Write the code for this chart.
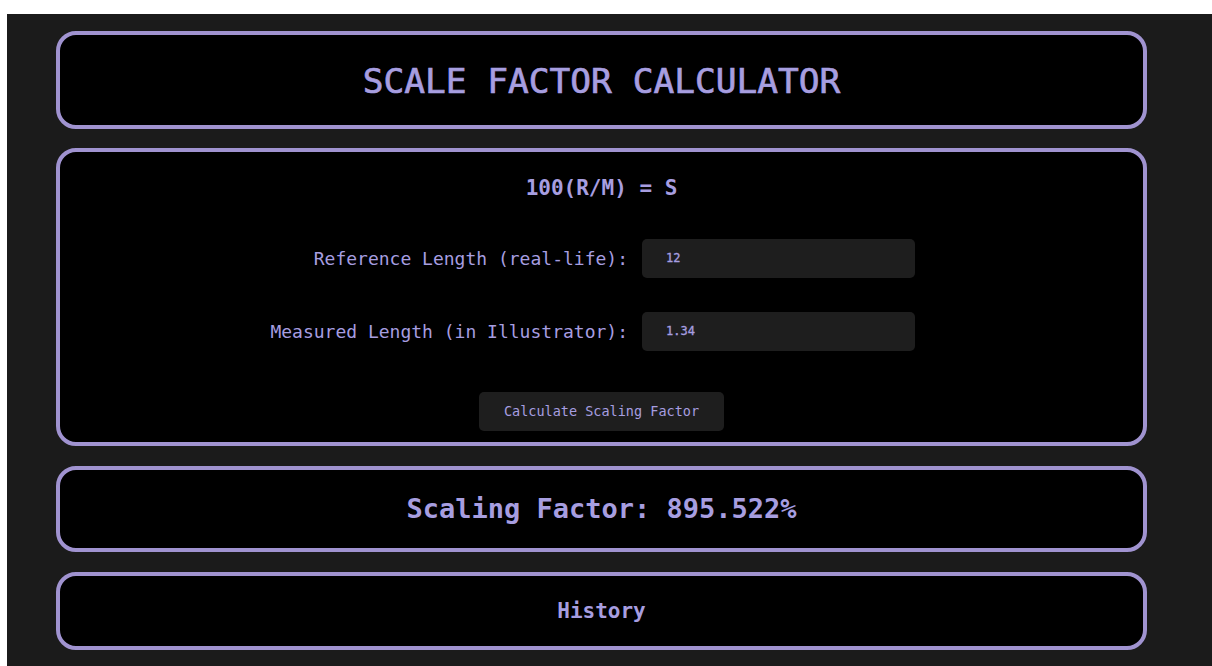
<!DOCTYPE html>
<html>
<head>
<meta charset="utf-8">
<script src="https://cdn.jsdelivr.net/npm/chart.js@4"></script>
<style>
  html, body { margin: 0; padding: 0; background: #fff; width: 1212px; height: 666px; overflow: hidden; }
  body { font-family: "DejaVu Sans Mono", monospace; color: #a79ee0; }
  #page { position: absolute; left: 7px; top: 14px; right: 0; bottom: 0; background: #1b1b1b; }
  .box { position: absolute; left: 49px; width: 1091px; box-sizing: border-box;
         border: 4px solid #a093d0; border-radius: 20px; background: #000; }
  .center { position: absolute; left: 0; right: 0; text-align: center; }
  .lbl { position: absolute; right: 515px; font-size: 18px; white-space: nowrap; line-height: 39px; }
  .inp { position: absolute; left: 582px; width: 273px; height: 39px; background: #1e1e1e; border-radius: 5px;
         font-size: 12px; line-height: 39px; padding-left: 24px; box-sizing: border-box; -webkit-text-stroke: 0.3px #a79ee0; }
  .btn { position: absolute; left: 419px; width: 245px; height: 39px; background: #1e1e1e; border-radius: 5px;
         font-size: 13.5px; line-height: 39px; text-align: center; }
</style>
</head>
<body>
<div id="page">
  <div class="box" style="top:17px;height:98px;"><div class="center" id="title" style="top:1px;line-height:90px;font-size:34.5px;-webkit-text-stroke:0.7px #a79ee0;"></div></div>
  <div class="box" id="form" style="top:134px;height:298px;">
    <div class="center" id="formula" style="top:20px;line-height:32px;font-size:21px;font-weight:bold;"></div>
    <div class="btn" id="calc" style="top:240px;"></div>
  </div>
  <div class="box" style="top:452px;height:86px;"><div class="center" id="result" style="top:0;line-height:78px;font-size:27px;font-weight:bold;"></div></div>
  <div class="box" style="top:558px;height:78px;"><div class="center" id="history" style="top:0;line-height:70px;font-size:21px;font-weight:bold;"></div></div>
</div>
<script>
const pageTitle = ['SCALE FACTOR CALCULATOR'];
const formulaText = ['100(R/M) = S'];
const fieldLabels = ['Reference Length (real-life):', 'Measured Length (in Illustrator):'];
const fieldValues = ['12', '1.34'];
const fieldTops = [87, 160];
const buttonText = ['Calculate Scaling Factor'];
const resultText = ['Scaling Factor: 895.522%'];
const historyText = ['History'];

document.getElementById('title').textContent = pageTitle[0];
document.getElementById('formula').textContent = formulaText[0];
document.getElementById('calc').textContent = buttonText[0];
document.getElementById('result').textContent = resultText[0];
document.getElementById('history').textContent = historyText[0];

const form = document.getElementById('form');
fieldLabels.forEach((label, i) => {
    const l = document.createElement('div');
    l.className = 'lbl';
    l.style.top = fieldTops[i] + 'px';
    l.textContent = label;
    form.appendChild(l);
    const v = document.createElement('div');
    v.className = 'inp';
    v.style.top = fieldTops[i] + 'px';
    v.textContent = fieldValues[i];
    form.appendChild(v);
});
</script>
</body>
</html>
